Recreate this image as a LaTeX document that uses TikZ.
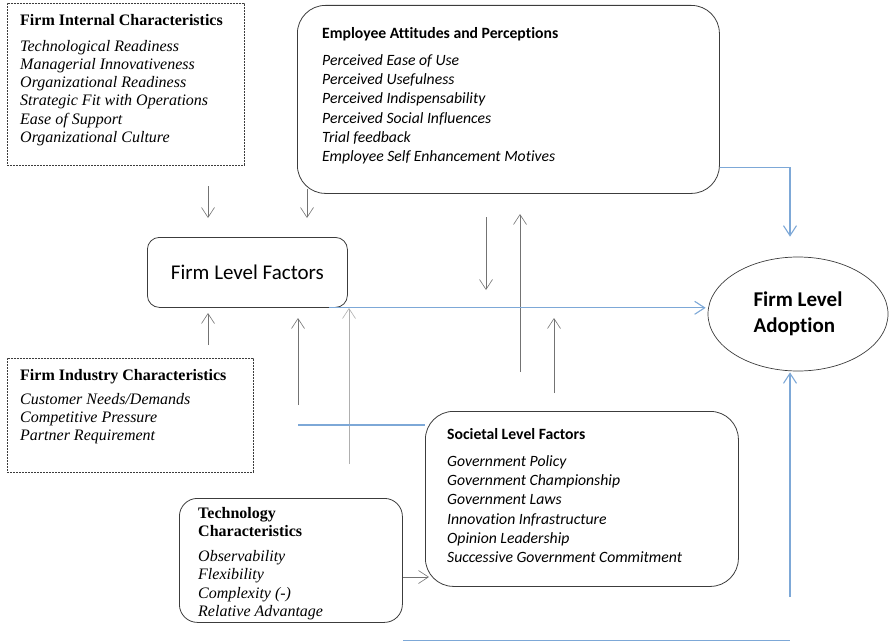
\documentclass[tikz,border=0pt]{standalone}
\usepackage{fontspec}
\setmainfont{Liberation Serif}
\newfontfamily\calibri[Ligatures=NoCommon]{Carlito}
\usepackage{tikz}
\usetikzlibrary{arrows.meta, positioning, shapes.geometric}

\definecolor{boxline}{RGB}{60,60,60}
\definecolor{arrowgray}{RGB}{115,115,115}
\definecolor{lightgray}{RGB}{175,175,175}
\definecolor{linkblue}{RGB}{125,168,215}

\begin{document}
\begin{tikzpicture}[x=1pt, y=-1pt,
    >={Straight Barb[length=10pt,width=13pt]},
    dashbox/.style={draw=boxline, line width=0.7pt, dash pattern=on 2pt off 1pt, anchor=north west, inner sep=0pt},
    roundbox/.style={draw=boxline, line width=0.8pt, rounded corners=#1, anchor=north west, inner sep=0pt},
    serifitems/.style={align=left, inner sep=0pt, font=\fontsize{16}{18.2}\selectfont},
    sansitems/.style={align=left, inner sep=0pt, font=\calibri\fontsize{15.7}{19.3}\selectfont},
    grayarrow/.style={draw=arrowgray, line width=0.6pt},
    bluelink/.style={draw=linkblue, line width=1.1pt}
]
        \useasboundingbox (0,0) rectangle (889,642);

        % boxes
        \node[dashbox, minimum width=237pt, minimum height=162pt] (internal) at (7,3) {};
        \node[roundbox=28pt, minimum width=422pt, minimum height=188pt] (employee) at (297,5) {};
        \node[roundbox=12pt, minimum width=200pt, minimum height=70pt, font=\calibri\fontsize{21}{25}\selectfont] (factors) at (147,237) {Firm Level Factors};
        \node[ellipse, draw=boxline, line width=0.7pt, minimum width=180pt, minimum height=114pt, inner sep=0pt, align=left, font=\calibri\bfseries\fontsize{21}{26}\selectfont] (adoption) at (798,314) {Firm Level\\Adoption};
        \node[dashbox, minimum width=246pt, minimum height=114pt] (industry) at (7,358) {};
        \node[roundbox=28pt, minimum width=313pt, minimum height=175pt] (societal) at (425,411) {};
        \node[roundbox=18pt, minimum width=223pt, minimum height=124pt] (technology) at (179,498) {};

        % texts
        \node[serifitems, below right=11pt and 13pt of internal.north west] (internal_txt) {\textbf{Firm Internal Characteristics}\\[7.8pt]
            \textit{Technological Readiness}\\
            \textit{Managerial Innovativeness}\\
            \textit{Organizational Readiness}\\
            \textit{Strategic Fit with Operations}\\
            \textit{Ease of Support}\\
            \textit{Organizational Culture}};
        \node[sansitems, below right=22pt and 25pt of employee.north west] (employee_txt) {\textbf{Employee Attitudes and Perceptions}\\[7.6pt]
            \textit{Perceived Ease of Use}\\
            \textit{Perceived Usefulness}\\
            \textit{Perceived Indispensability}\\
            \textit{Perceived Social Influences}\\
            \textit{Trial feedback}\\
            \textit{Employee Self Enhancement Motives}};
        \node[serifitems, below right=11pt and 13pt of industry.north west] (industry_txt) {\textbf{Firm Industry Characteristics}\\[6pt]
            \textit{Customer Needs/Demands}\\
            \textit{Competitive Pressure}\\
            \textit{Partner Requirement}};
        \node[sansitems, below right=17pt and 22pt of societal.north west] (societal_txt) {\textbf{Societal Level Factors}\\[7.8pt]
            \textit{Government Policy}\\
            \textit{Government Championship}\\
            \textit{Government Laws}\\
            \textit{Innovation Infrastructure}\\
            \textit{Opinion Leadership}\\
            \textit{Successive Government Commitment}};
        \node[serifitems, below right=9pt and 19pt of technology.north west] (technology_txt) {\textbf{Technology}\\
            \textbf{Characteristics}\\[7pt]
            \textit{Observability}\\
            \textit{Flexibility}\\
            \textit{Complexity (-)}\\
            \textit{Relative Advantage}};

        % free ends of the connectors
        \coordinate (a1s) at (208,186);  \coordinate (a1e) at (208,218);
        \coordinate (a2s) at (307,189);  \coordinate (a2e) at (307,218);
        \coordinate (a3s) at (486,217);  \coordinate (a3e) at (486,290);
        \coordinate (a4s) at (520,372);  \coordinate (a4e) at (520,214);
        \coordinate (a5s) at (208,345);  \coordinate (a5e) at (208,313);
        \coordinate (a6s) at (298,405);  \coordinate (a6e) at (298,318);
        \coordinate (a7s) at (349,464);  \coordinate (a7e) at (349,308);
        \coordinate (a8s) at (554,393);  \coordinate (a8e) at (554,318);
        \coordinate (tech_out) at (403,577);
        \coordinate (soc_link) at (298,425);
        \coordinate (adopt_feed) at (790,597);
        \coordinate (bottom_l) at (403,640.5);
        \coordinate (bottom_r) at (790,640.5);

        \path[->, every edge/.append style={grayarrow}]
        (a1s) edge (a1e)
        (a2s) edge (a2e)
        (a3s) edge (a3e)
        (a4s) edge (a4e)
        (a5s) edge (a5e)
        (a6s) edge (a6e)
        (a7s) edge[draw=lightgray] (a7e)
        (a8s) edge (a8e)
        (tech_out) edge ([xshift=4pt]societal.west |- tech_out);

        \path[every edge/.append style={bluelink}]
        ([xshift=-19pt]factors.south east) edge[->, shorten >=2pt] (adoption.west |- factors.south)
        (soc_link) edge (societal.west |- soc_link)
        (adopt_feed) edge[->, shorten >=1pt] (adoption.south -| adopt_feed)
        (bottom_l) edge (bottom_r);
        \draw[bluelink, ->, shorten >=20pt] ([yshift=26pt]employee.south east) -| ([xshift=-8pt]adoption.north);

\end{tikzpicture}
\end{document}
